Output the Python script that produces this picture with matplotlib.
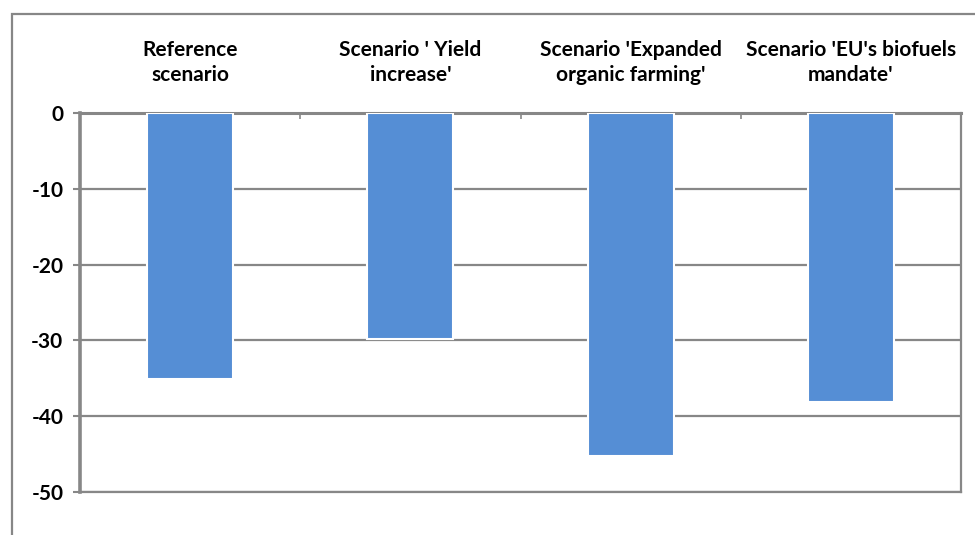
import matplotlib.pyplot as plt
from matplotlib.patches import Rectangle

categories = ["Reference\nscenario", "Scenario ' Yield\nincrease'",
              "Scenario 'Expanded\norganic farming'", "Scenario 'EU's biofuels\nmandate'"]
values = [-35.1, -29.8, -45.2, -38.1]
yticks = [0, -10, -20, -30, -40, -50]

plt.rcParams['font.family'] = ['Lato', 'DejaVu Sans']
grey = '#878787'
blue = '#558ED5'

fig = plt.figure(figsize=(9.75, 5.35), dpi=100)
ax = fig.add_axes([80 / 975, 1 - 492 / 535, 881 / 975, 379 / 535])

# outer chart frame (cut off at right and bottom like the source)
fig.patches.append(Rectangle((12 / 975, -0.1), 1.2, 1 - 14 / 535 + 0.1,
                             transform=fig.transFigure, fill=False,
                             edgecolor=grey, linewidth=1.6))

x = range(len(categories))
ax.bar(x, values, width=0.39, color=blue, edgecolor='white', linewidth=1.5, zorder=3)

ax.set_xlim(-0.5, len(categories) - 0.5)
ax.set_ylim(-50, 0)
ax.set_yticks(yticks)
ax.set_yticklabels([str(v) for v in yticks], fontsize=15, fontweight='bold')
ax.tick_params(axis='y', length=5, width=1.5, color=grey, pad=7)
ax.yaxis.grid(True, color=grey, linewidth=1.6, zorder=0)
ax.set_axisbelow(True)

ax.xaxis.tick_top()
ax.set_xticks(list(x))
ax.set_xticklabels(categories, fontsize=15, fontweight='bold', linespacing=1.3)
ax.tick_params(axis='x', which='major', length=0, pad=20)
ax.set_xticks([0.5, 1.5, 2.5], minor=True)
ax.tick_params(axis='x', which='minor', top=True, direction='in', length=4,
               width=1.2, color=grey)

for side in ['left', 'right', 'top', 'bottom']:
    ax.spines[side].set_color(grey)
    ax.spines[side].set_linewidth(1.6)
ax.spines['left'].set_linewidth(2.6)
ax.spines['top'].set_linewidth(2.2)

fig.savefig('out.png', dpi=100)
